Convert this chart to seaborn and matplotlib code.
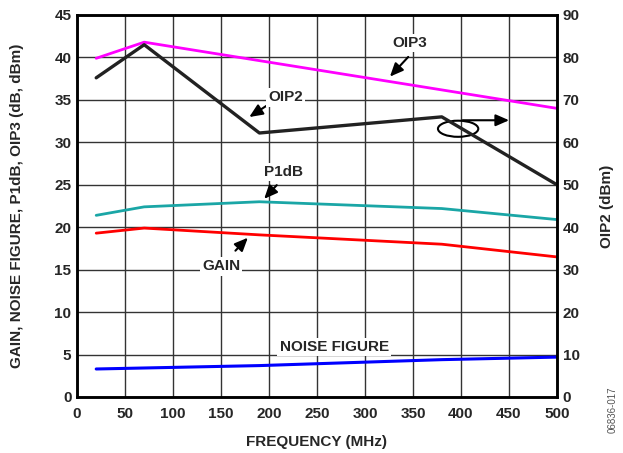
import numpy as np
import pandas as pd
import matplotlib.pyplot as plt
import seaborn as sns
from matplotlib.patches import Ellipse

# ---- data ----
freq_oip3 = [20, 70, 500]
oip3 = [39.9, 41.8, 34.0]

freq_oip2 = [20, 70, 190, 380, 500]
oip2 = [75.2, 83.0, 62.2, 66.0, 50.0]   # right axis (dBm)

freq_p1db = [20, 70, 190, 380, 500]
p1db = [21.4, 22.4, 23.0, 22.2, 20.9]

freq_gain = [20, 70, 190, 380, 500]
gain = [19.3, 19.9, 19.1, 18.0, 16.5]

freq_nf = [20, 190, 380, 500]
nf = [3.3, 3.7, 4.4, 4.7]

sns.set_style("white")
plt.rcParams['font.family'] = ['Liberation Sans', 'DejaVu Sans']
plt.rcParams['font.weight'] = 'bold'

fig = plt.figure(figsize=(6.23, 4.53), dpi=100)
ax = fig.add_axes([77 / 623, 1 - 397 / 453, 480 / 623, 382 / 453])

sns.lineplot(x=freq_oip3, y=oip3, ax=ax, color='#ff00ff', lw=2)
sns.lineplot(x=freq_p1db, y=p1db, ax=ax, color='#1aa6a6', lw=2)
sns.lineplot(x=freq_gain, y=gain, ax=ax, color='#ff0000', lw=2)
sns.lineplot(x=freq_nf, y=nf, ax=ax, color='#0000ff', lw=2.2)

ax2 = ax.twinx()
sns.lineplot(x=freq_oip2, y=oip2, ax=ax2, color='#222222', lw=2.4)

ax.set_xlim(0, 500)
ax.set_ylim(0, 45)
ax2.set_ylim(0, 90)
ax.set_xticks(np.arange(0, 501, 50))
ax.set_yticks(np.arange(0, 46, 5))
ax2.set_yticks(np.arange(0, 91, 10))
ax.grid(True, color='#333333', lw=1)
ax2.grid(False)
for a in (ax, ax2):
    a.tick_params(length=0, labelsize=11, pad=4)
    for s in a.spines.values():
        s.set_color('black')
        s.set_linewidth(1.8)
ax.tick_params(axis='x', pad=7)
for t in ax.get_xticklabels() + ax.get_yticklabels() + ax2.get_yticklabels():
    t.set_fontweight('bold')

ax.set_xlabel('FREQUENCY (MHz)', fontsize=11, fontweight='bold', labelpad=10)
ax.set_ylabel('GAIN, NOISE FIGURE, P1dB, OIP3 (dB, dBm)', fontsize=11, fontweight='bold', labelpad=22)
ax2.set_ylabel('OIP2 (dBm)', fontsize=11, fontweight='bold', labelpad=15)

# ---- labels with arrows ----
box = dict(boxstyle='square,pad=0.15', fc='white', ec='none')
arrow = dict(arrowstyle='-|>,head_length=0.8,head_width=0.35', color='black', lw=1.5)
lab = dict(fontsize=11, fontweight='bold', ha='center', va='center', bbox=box, zorder=5)

ax.text(347, 41.7, 'OIP3', **lab)
ax.annotate('', xy=(324, 37.5), xytext=(347, 40.3), arrowprops=arrow)
ax.text(217, 35.3, 'OIP2', **lab)
ax.annotate('', xy=(177, 32.8), xytext=(200, 34.5), arrowprops=arrow)
ax.text(215, 26.5, 'P1dB', **lab)
ax.annotate('', xy=(193, 23.1), xytext=(210, 25.2), arrowprops=arrow)
ax.text(150, 15.4, 'GAIN', **lab)
ax.annotate('', xy=(180, 19.0), xytext=(163, 17.0), arrowprops=arrow)
ax.text(268, 5.9, 'NOISE FIGURE', **lab)

ax.add_patch(Ellipse((397, 31.6), 42, 1.9, fill=False, ec='black', lw=1.5, zorder=6))
ax.annotate('', xy=(453, 32.6), xytext=(399, 32.6), arrowprops=arrow)

fig.text(613 / 623, 1 - 410 / 453, '06836-017', rotation=90, fontsize=7,
         color='#555555', fontweight='normal', ha='center', va='center')

fig.savefig('out.png', dpi=100)
